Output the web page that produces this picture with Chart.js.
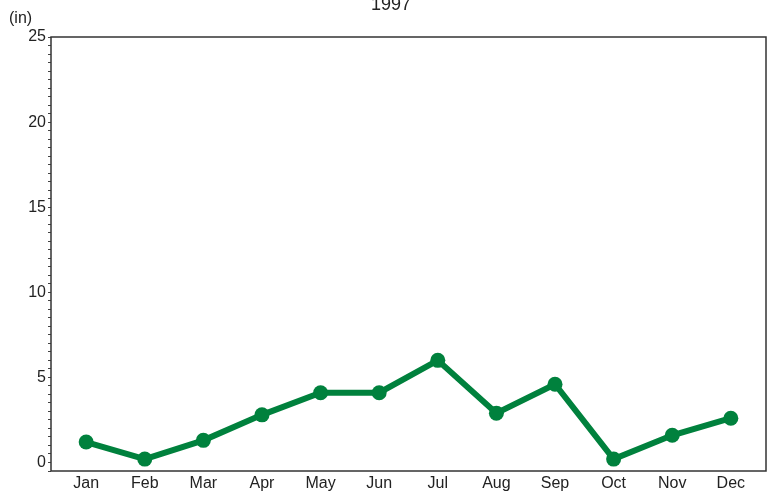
<!DOCTYPE html>
<html>
<head>
<meta charset="utf-8">
<script src="https://cdn.jsdelivr.net/npm/chart.js@4/dist/chart.umd.min.js"></script>
<style>
  html, body { margin: 0; padding: 0; background: #fff; }
  #wrap { width: 767px; height: 497px; }
</style>
</head>
<body>
<div id="wrap"><canvas id="chartRain" width="767" height="497"></canvas></div>
<script>
const months = ["Jan", "Feb", "Mar", "Apr", "May", "Jun", "Jul", "Aug", "Sep", "Oct", "Nov", "Dec"];
const rainfall = [1.2, 0.2, 1.3, 2.8, 4.1, 4.1, 6.0, 2.9, 4.6, 0.2, 1.6, 2.6];
const yLabels = [0, 5, 10, 15, 20, 25];
const chartTitle = "1997";
const unitLabel = "(in)";

const textColor = "#222";
const lineColor = "#00813D";

// frame + title + unit text
const decorPlugin = {
    id: "decor",
    afterDraw(chart) {
        const { ctx, chartArea } = chart;
        ctx.save();
        ctx.strokeStyle = "#333";
        ctx.lineWidth = 1.5;
        ctx.strokeRect(chartArea.left, chartArea.top, chartArea.right - chartArea.left, chartArea.bottom - chartArea.top);
        ctx.fillStyle = textColor;
        ctx.font = "18px 'Liberation Sans', Arial, sans-serif";
        ctx.textAlign = "center";
        ctx.textBaseline = "alphabetic";
        ctx.fillText(chartTitle, 391, 10);
        ctx.font = "16px 'Liberation Sans', Arial, sans-serif";
        ctx.textAlign = "left";
        ctx.fillText(unitLabel, 9, 23);
        ctx.restore();
    },
};

const points = rainfall.map((v, i) => ({ x: i, y: v }));

new Chart(document.getElementById("chartRain").getContext("2d"), {
    type: "line",
    data: {
        datasets: [
            {
                label: chartTitle,
                data: points,
                borderColor: lineColor,
                backgroundColor: lineColor,
                borderWidth: 6,
                pointRadius: 7.5,
                pointHoverRadius: 7.5,
                pointBorderWidth: 0,
                tension: 0,
            },
        ],
    },
    options: {
        responsive: false,
        animation: false,
        layout: { autoPadding: false, padding: { top: 37, right: 1, left: 0, bottom: 0 } },
        plugins: {
            legend: { display: false },
            title: { display: false },
            tooltip: { enabled: false },
        },
        scales: {
            x: {
                type: "linear",
                min: -0.6,
                max: 11.6,
                afterFit(scale) { scale.height = 26; },
                afterBuildTicks(scale) {
                    scale.ticks = months.map((m, i) => ({ value: i }));
                },
                border: { display: false },
                grid: { display: false },
                ticks: {
                    autoSkip: false,
                    maxRotation: 0,
                    padding: -5,
                    color: textColor,
                    font: { size: 16, family: "'Liberation Sans', Arial, sans-serif" },
                    callback: (v) => months[v] ?? "",
                },
            },
            y: {
                min: -0.5,
                max: 25,
                afterFit(scale) { scale.width = 51; },
                border: { display: false },
                grid: {
                    drawOnChartArea: false,
                    drawTicks: true,
                    tickLength: 3,
                    color: "#444",
                },
                ticks: {
                    stepSize: 0.5,
                    autoSkip: false,
                    padding: 2,
                    color: textColor,
                    font: { size: 16, family: "'Liberation Sans', Arial, sans-serif" },
                    callback: (v) => (yLabels.includes(v) ? String(v) : ""),
                },
            },
        },
    },
    plugins: [decorPlugin],
});
</script>
</body>
</html>
